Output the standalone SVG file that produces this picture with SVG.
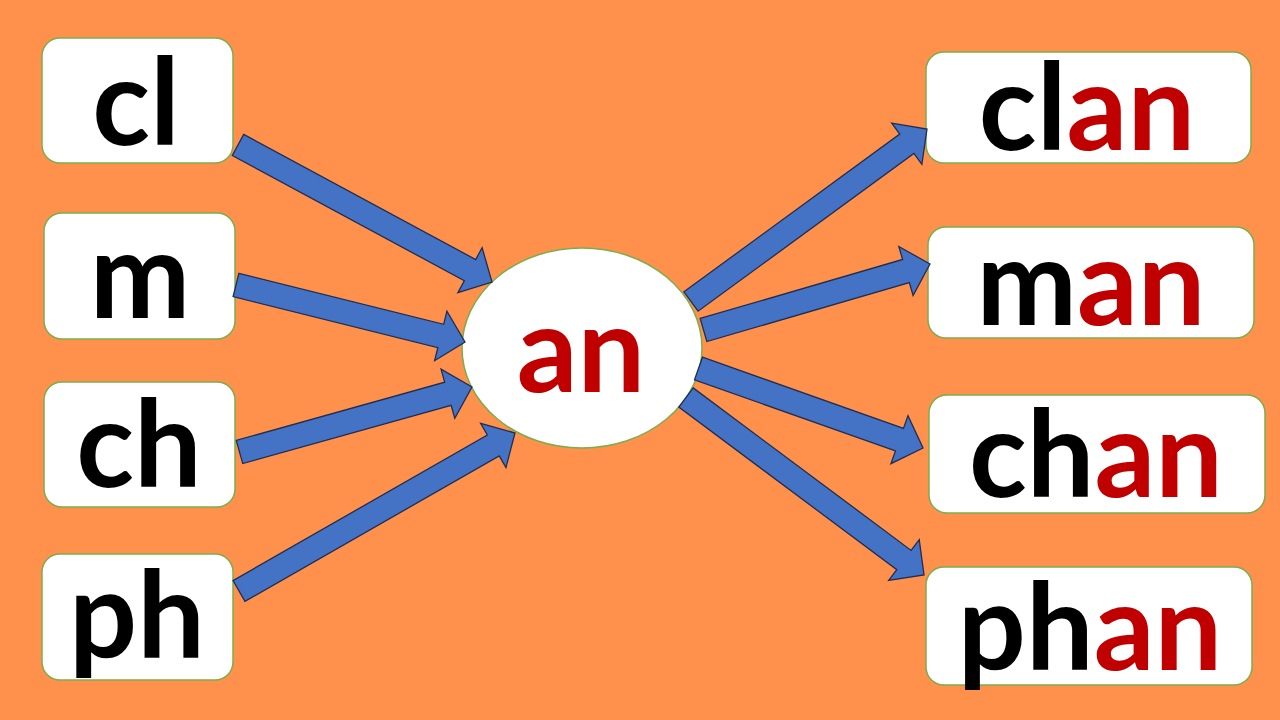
<svg xmlns="http://www.w3.org/2000/svg" width="1280" height="720" viewBox="0 0 1280 720">
  <style>
    .box { fill: #FFFFFF; stroke: #7AAE4C; stroke-width: 1.5; }
    .arrow { fill: #4472C4; stroke: #1F2E50; stroke-width: 1.3; stroke-linejoin: miter; }
    .lbl { font-family: Lato, "Open Sans", "Liberation Sans", sans-serif; font-weight: 700; font-size: 120px; fill: #000000; text-anchor: middle; }
    .red { fill: #C00000; }
  </style>
  <rect x="0" y="0" width="1280" height="720" fill="#FF914D"/>

  <g id="node-cl">
    <rect class="box" x="42" y="38" width="191" height="125" rx="18"/>
    <text class="lbl" x="136" y="145">cl</text>
  </g>
  <g id="node-m">
    <rect class="box" x="44" y="213" width="191" height="126" rx="18"/>
    <text class="lbl" x="140" y="318">m</text>
  </g>
  <g id="node-ch">
    <rect class="box" x="44" y="382" width="191" height="125" rx="18"/>
    <text class="lbl" x="139" y="487">ch</text>
  </g>
  <g id="node-ph">
    <rect class="box" x="42" y="554" width="191" height="126" rx="18"/>
    <text class="lbl" x="137" y="658">ph</text>
  </g>

  <g id="node-an">
    <ellipse class="box" cx="582" cy="348" rx="120" ry="100"/>
    <text class="lbl red" x="581" y="392">an</text>
  </g>

  <g id="node-clan">
    <rect class="box" x="926" y="52" width="325" height="111" rx="18"/>
    <text class="lbl" x="1087" y="150">cl<tspan class="red">an</tspan></text>
  </g>
  <g id="node-man">
    <rect class="box" x="928" y="227" width="326" height="111" rx="18"/>
    <text class="lbl" x="1091" y="325">m<tspan class="red">an</tspan></text>
  </g>
  <g id="node-chan">
    <rect class="box" x="929" y="395" width="336" height="118" rx="18"/>
    <text class="lbl" x="1096" y="497">ch<tspan class="red">an</tspan></text>
  </g>
  <g id="node-phan">
    <rect class="box" x="926" y="567" width="326" height="118" rx="18"/>
    <text class="lbl" x="1090" y="670">ph<tspan class="red">an</tspan></text>
  </g>

  <g id="connectors">
    <polygon class="arrow" transform="translate(238,145) rotate(28.34)" points="0,-12 263.6,-12 263.6,-25.5 288.6,0 263.6,25.5 263.6,12 0,12"/>
    <polygon class="arrow" transform="translate(236,285) rotate(13.98)" points="0,-12 211,-12 211,-25.5 236,0 211,25.5 211,12 0,12"/>
    <polygon class="arrow" transform="translate(239.5,452) rotate(-15.62)" points="0,-12 216.4,-12 216.4,-25.5 241.4,0 216.4,25.5 216.4,12 0,12"/>
    <polygon class="arrow" transform="translate(239,591) rotate(-29.79)" points="0,-12 293,-12 293,-25.5 318,0 293,25.5 293,12 0,12"/>
    <polygon class="arrow" transform="translate(691,301.5) rotate(-36.16)" points="0,-12 267.3,-12 267.3,-25.5 292.3,0 267.3,25.5 267.3,12 0,12"/>
    <polygon class="arrow" transform="translate(703.5,330) rotate(-16.25)" points="0,-12 210.9,-12 210.9,-25.5 235.9,0 210.9,25.5 210.9,12 0,12"/>
    <polygon class="arrow" transform="translate(698.5,368.5) rotate(19.5)" points="0,-12 213.2,-12 213.2,-25.5 238.2,0 213.2,25.5 213.2,12 0,12"/>
    <polygon class="arrow" transform="translate(686,397.5) rotate(36.71)" points="0,-12 271.9,-12 271.9,-25.5 296.9,0 271.9,25.5 271.9,12 0,12"/>
  </g>
</svg>
